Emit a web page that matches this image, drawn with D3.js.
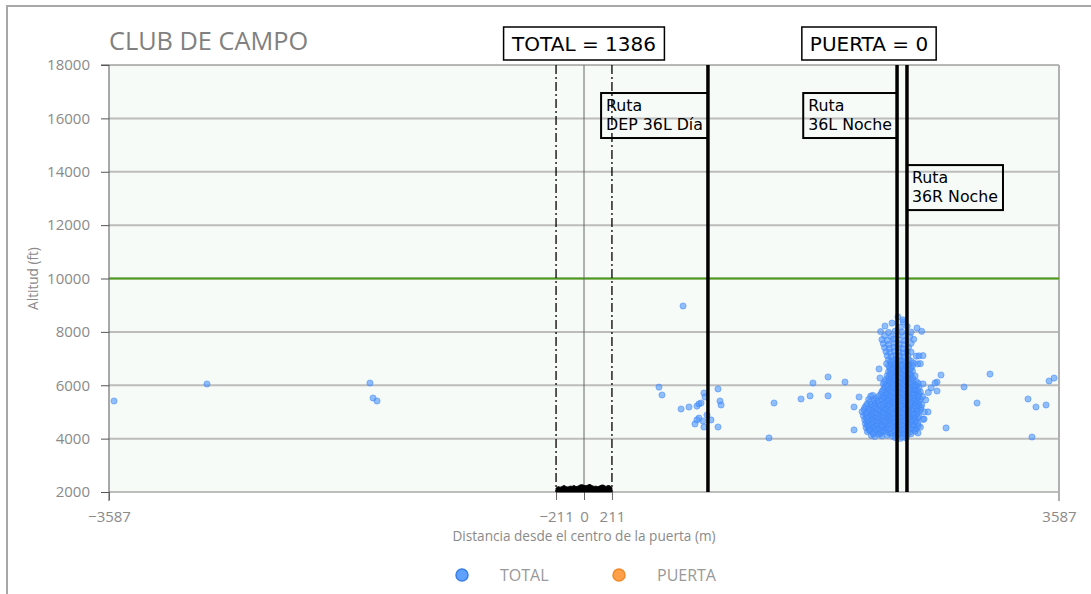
<!DOCTYPE html>
<html><head><meta charset="utf-8">
<script src="https://cdn.jsdelivr.net/npm/d3@7"></script>
<style>body{margin:0;background:#fff;} svg{display:block;}</style>
</head><body><svg id="c" width="1091" height="594"></svg>
<script>
// ---------- data ----------
const chartTitle = "CLUB DE CAMPO";
const xAxisTitle = "Distancia desde el centro de la puerta (m)";
const yAxisTitle = "Altitud (ft)";
const xDomain = [-3587, 3587];
const yDomain = [2000, 18000];
const xTickValues = [-3587, -211, 0, 211, 3587];
const yTickValues = [2000, 4000, 6000, 8000, 10000, 12000, 14000, 16000, 18000];
const gateHalfWidth = 211;
const referenceAltitude = 10000;
const totalCount = 1386;
const gateCount = 0;
const routeNames = [["Ruta", "DEP 36L Día"], ["Ruta", "36L Noche"], ["Ruta", "36R Noche"]];
const routeX = [936, 2364, 2439];
const routeLabelSide = ["left", "left", "right"];
const routeLabelTopAlt = [16950, 16950, 14250];
const legendNames = ["TOTAL", "PUERTA"];

// gate profile (black band at the bottom)
const gateProfileX = [-211,-195,-180,-165,-150,-135,-120,-105,-90,-75,-60,-45,-30,-15,0,15,30,45,60,75,90,105,120,135,150,165,180,195,211];
const gateProfileAlt = [2150,2200,2180,2210,2240,2200,2190,2220,2210,2240,2200,2220,2260,2270,2250,2230,2260,2280,2240,2210,2220,2200,2230,2260,2250,2210,2240,2230,2160];

// TOTAL scatter: [distance m, altitude ft]
const totalOutliers = [
 [-3549,5410],[-2847,6047],[-1616,6084],[-1593,5522],[-1563,5410],
 [748,8970],[566,5930],[589,5635],[733,5110],[793,5185],[853,5220],[868,5300],[884,5335],
 [906,5710],[914,5560],[1012,5860],[1027,5410],[1035,5260],[929,4885],[868,4770],[853,4700],
 [838,4550],[899,4660],[959,4700],[906,4435],[1012,4435],
 [1843,6310],[1729,6085],[1971,6120],[1435,5335],[1639,5485],[1707,5600],[1843,5600],
 [2077,5560],[2039,5185],[2039,4325],[1397,4025],[2235,6272],[2228,6610],
 [2696,6385],[2666,6120],[2651,6085],[2621,5900],[2870,5935],[3066,6420],[2968,5335],
 [2734,4400],[2666,5785],[2598,5000],[2568,4735],[2522,4210],[3353,5485],[3413,5185],
 [3489,5260],[3383,4060],[3512,6160],[3550,6270]
];
const totalCluster = [
 [2390,4010],[2430,4030],[2350,4040],
 [2170,4120],[2195,4080],[2225,4150],[2250,4100],[2290,4130],[2330,4090],[2370,4160],[2405,4070],[2440,4120],[2470,4180],
 [2185,4180],[2240,4190],[2310,4200],[2350,4170],[2390,4190],[2425,4210],
 [2140,4260],[2160,4300],[2185,4230],[2215,4280],[2240,4240],[2265,4310],[2295,4250],[2320,4220],[2350,4290],[2380,4260],[2410,4230],[2435,4300],[2460,4250],[2500,4280],
 [2150,4330],[2200,4340],[2250,4320],[2290,4350],[2340,4330],[2400,4340],[2450,4320],[2490,4350],
 [2130,4420],[2155,4380],[2180,4440],[2200,4400],[2230,4370],[2255,4430],[2280,4410],[2305,4380],[2335,4450],[2360,4400],[2390,4420],[2420,4370],[2445,4440],[2475,4400],[2510,4380],[2540,4430],
 [2140,4480],[2190,4490],[2245,4470],[2290,4500],[2345,4480],[2380,4490],[2430,4470],[2490,4500],[2525,4480],
 [2125,4560],[2150,4530],[2175,4580],[2205,4540],[2225,4570],[2250,4520],[2275,4590],[2300,4550],[2325,4530],[2350,4580],[2375,4560],[2400,4520],[2430,4590],[2455,4550],[2485,4530],[2520,4570],
 [2135,4630],[2185,4640],[2235,4620],[2285,4650],[2335,4630],[2385,4640],[2440,4620],[2470,4650],[2500,4630],
 [2120,4710],[2145,4680],[2170,4730],[2195,4700],[2220,4670],[2245,4720],[2270,4690],[2295,4740],[2320,4700],[2345,4680],[2370,4720],[2395,4700],[2420,4670],[2450,4730],[2480,4700],[2510,4680],[2560,4720],
 [2130,4780],[2180,4790],[2230,4770],[2280,4800],[2330,4780],[2380,4790],[2430,4770],[2460,4800],[2495,4780],[2520,4790],
 [2110,4860],[2140,4830],[2165,4880],[2190,4850],[2215,4820],[2240,4870],[2265,4840],[2290,4880],[2315,4850],[2340,4820],[2365,4870],[2390,4840],[2415,4860],[2440,4830],[2470,4880],[2500,4850],[2530,4830],
 [2125,4930],[2175,4940],[2225,4920],[2275,4950],[2325,4930],[2375,4940],[2425,4920],[2450,4950],[2480,4930],[2515,4940],
 [2100,5010],[2135,4980],[2160,5030],[2185,5000],[2210,4970],[2235,5020],[2260,4990],[2285,5040],[2310,5000],[2335,4970],[2360,5020],[2385,5000],[2410,4980],[2435,5030],[2460,5000],[2490,4970],[2525,5020],[2570,5000],
 [2115,5080],[2170,5090],[2220,5070],[2270,5100],[2320,5080],[2370,5090],[2420,5070],[2450,5100],[2475,5080],[2510,5090],[2540,5070],
 [2120,5160],[2150,5130],[2180,5180],[2205,5150],[2230,5120],[2255,5170],[2280,5140],[2305,5190],[2330,5150],[2355,5120],[2380,5170],[2405,5150],[2430,5130],[2455,5180],[2485,5150],[2515,5120],[2545,5170],
 [2130,5230],[2190,5240],[2240,5220],[2290,5250],[2345,5230],[2395,5240],[2445,5220],[2470,5250],[2500,5230],[2530,5240],
 [2140,5310],[2170,5280],[2200,5330],[2230,5300],[2260,5270],[2285,5320],[2310,5290],[2335,5340],[2360,5300],[2385,5270],[2410,5320],[2435,5300],[2460,5280],[2490,5330],[2520,5300],[2550,5270],
 [2160,5380],[2215,5390],[2270,5370],[2320,5400],[2370,5380],[2420,5390],[2470,5370],[2500,5400],[2530,5380],
 [2150,5470],[2190,5460],[2220,5430],[2250,5480],[2275,5450],[2300,5420],[2325,5470],[2350,5440],[2375,5490],[2400,5450],[2425,5420],[2450,5470],[2480,5450],[2510,5430],[2540,5480],[2580,5450],
 [2205,5530],[2265,5540],[2305,5520],[2360,5550],[2405,5530],[2455,5540],[2490,5520],[2520,5550],
 [2165,5590],[2180,5620],[2230,5610],[2260,5580],[2290,5630],[2315,5600],[2340,5570],[2365,5620],[2390,5590],[2415,5640],[2440,5600],[2465,5570],[2495,5620],[2525,5600],[2555,5580],
 [2245,5680],[2300,5690],[2350,5670],[2400,5700],[2450,5680],[2500,5690],[2530,5670],
 [2250,5760],[2280,5730],[2305,5780],[2330,5750],[2355,5720],[2380,5770],[2405,5740],[2430,5790],[2455,5750],[2480,5720],[2510,5770],[2540,5750],[2600,5730],
 [2260,5830],[2310,5840],[2360,5820],[2410,5850],[2460,5830],[2490,5840],[2520,5820],
 [2270,5910],[2295,5880],[2320,5930],[2345,5900],[2370,5870],[2395,5920],[2420,5890],[2445,5940],[2470,5900],[2500,5870],[2530,5920],
 [2275,5980],[2330,5990],[2380,5970],[2430,6000],[2480,5980],[2510,5990],
 [2260,6060],[2290,6030],[2315,6080],[2340,6050],[2365,6020],[2390,6070],[2415,6040],[2440,6090],[2465,6050],[2495,6020],[2525,6070],[2560,6050],
 [2270,6130],[2320,6140],[2370,6120],[2420,6150],[2470,6130],[2510,6140],
 [2280,6210],[2305,6180],[2330,6230],[2355,6200],[2380,6170],[2405,6220],[2430,6190],[2455,6240],[2485,6200],
 [2300,6280],[2345,6290],[2395,6270],[2440,6300],[2480,6280],
 [2290,6360],[2320,6330],[2345,6380],[2370,6350],[2395,6320],[2420,6370],[2445,6340],[2470,6390],[2500,6350],
 [2310,6430],[2360,6440],[2410,6420],[2460,6450],
 [2300,6510],[2325,6480],[2350,6530],[2375,6500],[2400,6470],[2425,6520],[2450,6490],[2480,6530],
 [2315,6580],[2365,6590],[2415,6570],[2460,6600],
 [2310,6660],[2335,6630],[2360,6680],[2385,6650],[2410,6620],[2440,6670],[2470,6640],
 [2300,6730],[2350,6740],[2400,6720],[2445,6750],[2480,6730],
 [2285,6810],[2320,6780],[2345,6830],[2370,6800],[2395,6770],[2425,6820],[2455,6790],[2490,6830],[2520,6800],[2540,6810],
 [2315,6880],[2375,6890],[2435,6870],[2470,6900],
 [2300,6960],[2330,6930],[2360,6980],[2390,6950],[2420,6920],[2450,6970],
 [2290,7110],[2320,7080],[2355,7130],[2385,7100],[2415,7070],[2445,7120],[2510,7090],[2530,7100],[2560,7110],
 [2280,7260],[2310,7230],[2345,7280],[2380,7250],[2410,7220],[2440,7270],[2470,7240],
 [2270,7410],[2305,7380],[2340,7430],[2375,7400],[2410,7370],[2450,7420],
 [2260,7560],[2300,7530],[2340,7580],[2380,7550],[2420,7520],[2470,7570],
 [2250,7710],[2290,7680],[2335,7730],[2380,7700],[2425,7670],[2490,7720],
 [2270,7860],[2320,7830],[2370,7880],[2420,7850],[2460,7820],
 [2240,8010],[2300,7980],[2350,8030],[2400,8000],[2470,7990],[2550,8020],
 [2273,8220],[2326,8330],[2390,8180],[2409,8370],[2440,8210],[2515,8145],
 [2371,8560],[2410,8450]
];

// ---------- layout ----------
const W = 1091, H = 594;
const plot = {left:109, right:1059, top:65, bottom:492};
const svg = d3.select("#c");
const x = d3.scaleLinear().domain(xDomain).range([plot.left, plot.right]);
const y = d3.scaleLinear().domain(yDomain).range([plot.bottom, plot.top]);
const uiFont = "'Open Sans', 'Noto Sans', sans-serif";
const annFont = "'DejaVu Sans', sans-serif";

// outer frame
svg.append("path").attr("d", `M7,${H} L7,6 L${W},6`).attr("fill","none").attr("stroke","#a8a8a8").attr("stroke-width",2);

// plot background
svg.append("rect").attr("x",plot.left).attr("y",plot.top).attr("width",plot.right-plot.left).attr("height",plot.bottom-plot.top).attr("fill","#f6fbf7");

// grid
svg.append("g").selectAll("line").data(yTickValues.filter(v => v < yDomain[1])).join("line")
  .attr("x1",plot.left).attr("x2",plot.right).attr("y1",d=>y(d)).attr("y2",d=>y(d))
  .attr("stroke","#bcbcbc").attr("stroke-width",2);
svg.append("line").attr("x1",plot.left).attr("x2",plot.right).attr("y1",y(yDomain[1])).attr("y2",y(yDomain[1]))
  .attr("stroke","#707070").attr("stroke-width",1);

// right border
svg.append("line").attr("x1",x(xDomain[1])).attr("x2",x(xDomain[1])).attr("y1",plot.top).attr("y2",plot.bottom+9)
  .attr("stroke","#b0b0b0").attr("stroke-width",2);

// y axis
const yAxis = d3.axisLeft(y).tickValues(yTickValues).tickSize(8).tickPadding(11).tickFormat(d3.format("d"));
const gy = svg.append("g").attr("transform",`translate(${plot.left},0)`).call(yAxis);
gy.select(".domain").attr("stroke","#555").attr("d", `M-8,${plot.top}H0V${plot.bottom+9}`);
gy.selectAll(".tick line").attr("stroke","#555");
gy.selectAll(".tick text").attr("fill","#8a8a8a").style("font-family",uiFont).style("font-size","15px");

// x axis
const xAxis = d3.axisBottom(x).tickValues(xTickValues).tickSize(8).tickPadding(11).tickFormat(d => d < 0 ? "\u2212" + Math.abs(d) : String(d));
const gx = svg.append("g").attr("transform",`translate(0,${plot.bottom})`).call(xAxis);
gx.select(".domain").remove();
gx.selectAll(".tick line").attr("stroke", d => d === xDomain[1] ? "none" : "#666");
gx.selectAll(".tick text").attr("fill","#8a8a8a").style("font-family",uiFont).style("font-size","15px");

// axis titles
svg.append("text").attr("x",(plot.left+plot.right)/2).attr("y",541).attr("text-anchor","middle")
  .attr("fill","#8a8a8a").style("font-family",uiFont).style("font-size","13.6px").text(xAxisTitle);
svg.append("text").attr("transform",`translate(38,${(plot.top+plot.bottom)/2}) rotate(-90)`).attr("text-anchor","middle")
  .attr("fill","#8a8a8a").style("font-family",uiFont).style("font-size","13.6px").text(yAxisTitle);

// title
svg.append("text").attr("x",plot.left).attr("y",50).attr("fill","#808080")
  .style("font-family",uiFont).style("font-size","25.3px").text(chartTitle);

// reference altitude line
svg.append("line").attr("x1",plot.left).attr("x2",plot.right).attr("y1",y(referenceAltitude)).attr("y2",y(referenceAltitude))
  .attr("stroke","#4a9a18").attr("stroke-width",2);

// centre line
svg.append("line").attr("x1",x(0)).attr("x2",x(0)).attr("y1",plot.top).attr("y2",plot.bottom)
  .attr("stroke","#666").attr("stroke-width",1);

// gate limits
svg.append("g").selectAll("line").data([-gateHalfWidth, gateHalfWidth]).join("line")
  .attr("x1",d=>x(d)).attr("x2",d=>x(d)).attr("y1",plot.top).attr("y2",plot.bottom)
  .attr("stroke","#000").attr("stroke-width",1.3).attr("stroke-dasharray","9,3,2,3");

// scatter
const totalPoints = totalOutliers.concat(totalCluster);
svg.append("g").selectAll("circle").data(totalPoints).join("circle")
  .attr("cx",d=>x(d[0])).attr("cy",d=>y(d[1])).attr("r",3.1)
  .attr("fill","#4d94ff").attr("fill-opacity",0.6)
  .attr("stroke","#3f86f5").attr("stroke-opacity",0.5).attr("stroke-width",1);

// gate band
const gateProfile = gateProfileX.map((v,i)=>[v, gateProfileAlt[i]]);
const area = d3.area().x(d=>x(d[0])).y0(y(yDomain[0])).y1(d=>y(d[1])).curve(d3.curveCatmullRom);
svg.append("path").datum(gateProfile).attr("d",area).attr("fill","#000").attr("stroke","#000").attr("stroke-width",1);

// routes
svg.append("g").selectAll("line").data(routeX).join("line")
  .attr("x1",d=>x(d)).attr("x2",d=>x(d)).attr("y1",plot.top).attr("y2",plot.bottom)
  .attr("stroke","#000").attr("stroke-width",3.5);

routeNames.forEach((lines,i) => {
  const g = svg.append("g");
  const t = g.append("text").style("font-family",annFont).style("font-size","15.8px").attr("fill","#000");
  lines.forEach((l,j) => t.append("tspan").attr("x",0).attr("y",j*19).text(l));
  const bb = t.node().getBBox();
  const bw = bb.width + 10, bh = 45;
  const lx = x(routeX[i]);
  const left = routeLabelSide[i] === "left" ? lx - bw : lx;
  const top = y(routeLabelTopAlt[i]);
  g.insert("rect","text").attr("x",left).attr("y",top).attr("width",bw).attr("height",bh)
    .attr("fill","none").attr("stroke","#000").attr("stroke-width",2);
  t.attr("transform",`translate(${left+5},${top+18})`);
});

// summary boxes
const summaries = [["TOTAL = " + totalCount, x(0)], ["PUERTA = " + gateCount, 869]];
summaries.forEach(([label, cx]) => {
  const g = svg.append("g");
  const t = g.append("text").attr("x",cx).attr("y",51).attr("text-anchor","middle")
    .style("font-family",annFont).style("font-size","20px").attr("fill","#000").text(label);
  const bb = t.node().getBBox();
  g.insert("rect","text").attr("x",cx - bb.width/2 - 8).attr("y",27).attr("width",bb.width+16).attr("height",33)
    .attr("fill","#fff").attr("stroke","#000").attr("stroke-width",1.5);
});

// legend
const legendColors = [["#5ea1ff","#3a7fe6"],["#ffa048","#ee8a2c"]];
const legendX = [462, 619];
legendNames.forEach((n,i) => {
  svg.append("circle").attr("cx",legendX[i]).attr("cy",575).attr("r",6)
    .attr("fill",legendColors[i][0]).attr("stroke",legendColors[i][1]).attr("stroke-width",1.5);
  svg.append("text").attr("x",legendX[i]+38).attr("y",581).attr("fill","#999")
    .style("font-family",uiFont).style("font-size","16px").text(n);
});
</script>
</body></html>
